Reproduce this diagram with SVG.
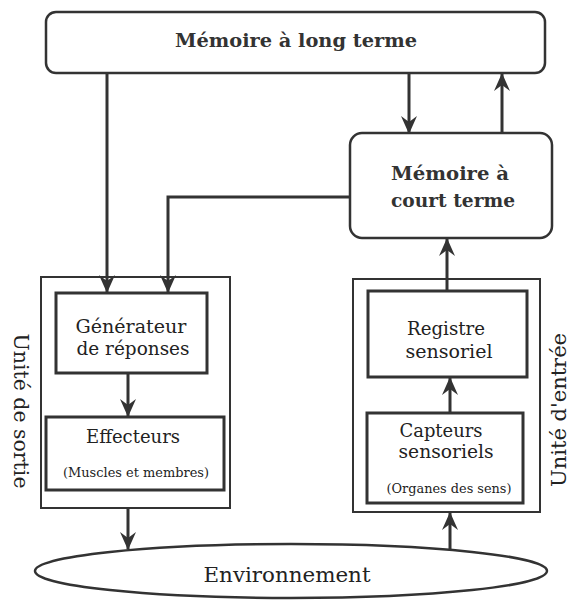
<svg xmlns="http://www.w3.org/2000/svg" width="572" height="600" viewBox="0 0 572 600">
<style>
  .outer { fill: none; stroke: #333333; stroke-width: 2; }
  .inner { fill: #ffffff; stroke: #333333; stroke-width: 3; }
  .round { fill: #ffffff; stroke: #333333; stroke-width: 2.5; }
  .lbl { font-family: "DejaVu Serif", "Liberation Serif", serif; font-size: 19px; fill: #222222; text-anchor: middle; }
  .bold { font-weight: bold; fill: #333333; }
  .small { font-size: 13px; }
  .side { font-size: 20px; }
  .conn { fill: none; stroke: #333333; stroke-width: 3; marker-end: url(#arr); }
</style>
<defs>
  <marker id="arr" viewBox="0 0 18 16" refX="17" refY="8" markerWidth="18" markerHeight="16" orient="auto" markerUnits="userSpaceOnUse">
    <path d="M0,0 L18,8 L0,16 L6,8 Z" fill="#333333"/>
  </marker>
</defs>
<rect width="572" height="600" fill="#ffffff"/>

<g id="ltm">
  <rect class="round" x="46" y="12" width="499" height="61" rx="10"/>
  <text class="lbl bold" x="296" y="47" textLength="242" lengthAdjust="spacingAndGlyphs">Mémoire à long terme</text>
</g>

<g id="stm">
  <rect class="round" x="350" y="133" width="202" height="105" rx="12"/>
  <text class="lbl bold" x="450" y="180" textLength="118" lengthAdjust="spacingAndGlyphs">Mémoire à</text>
  <text class="lbl bold" x="453" y="207" textLength="124" lengthAdjust="spacingAndGlyphs">court terme</text>
</g>

<g id="unite-sortie">
  <rect class="outer" x="41" y="277" width="189" height="231"/>
  <text class="lbl side" transform="translate(14,411) rotate(90)" x="0" y="0" textLength="155" lengthAdjust="spacingAndGlyphs">Unité de sortie</text>
</g>

<g id="generateur">
  <rect class="inner" x="56" y="293" width="151" height="80"/>
  <text class="lbl" x="131" y="333" textLength="111" lengthAdjust="spacingAndGlyphs">Générateur</text>
  <text class="lbl" x="133" y="355" textLength="113" lengthAdjust="spacingAndGlyphs">de réponses</text>
</g>

<g id="effecteurs">
  <rect class="inner" x="46" y="417" width="178" height="73"/>
  <text class="lbl" x="133" y="443" textLength="94" lengthAdjust="spacingAndGlyphs">Effecteurs</text>
  <text class="lbl small" x="136" y="477" textLength="146" lengthAdjust="spacingAndGlyphs">(Muscles et membres)</text>
</g>

<g id="unite-entree">
  <rect class="outer" x="353" y="279" width="187" height="233"/>
  <text class="lbl side" transform="translate(566,410) rotate(-90)" x="0" y="0" textLength="154" lengthAdjust="spacingAndGlyphs">Unité d'entrée</text>
</g>

<g id="registre">
  <rect class="inner" x="368" y="291" width="159" height="86"/>
  <text class="lbl" x="446" y="335" textLength="78" lengthAdjust="spacingAndGlyphs">Registre</text>
  <text class="lbl" x="449" y="358" textLength="87" lengthAdjust="spacingAndGlyphs">sensoriel</text>
</g>

<g id="capteurs">
  <rect class="inner" x="367" y="413" width="156" height="90"/>
  <text class="lbl" x="441" y="437" textLength="83" lengthAdjust="spacingAndGlyphs">Capteurs</text>
  <text class="lbl" x="446" y="458" textLength="95" lengthAdjust="spacingAndGlyphs">sensoriels</text>
  <text class="lbl small" x="449" y="493" textLength="125" lengthAdjust="spacingAndGlyphs">(Organes des sens)</text>
</g>

<g id="environnement">
  <ellipse cx="291" cy="571" rx="256" ry="27" fill="#ffffff" stroke="#333333" stroke-width="2.5"/>
  <text class="lbl" x="287" y="582" style="font-size:21px" textLength="167" lengthAdjust="spacingAndGlyphs">Environnement</text>
</g>

<g id="connectors">
  <path class="conn" d="M107,73 V292"/>
  <path class="conn" d="M350,197 H168 V292"/>
  <path class="conn" d="M409,73 V133"/>
  <path class="conn" d="M502,133 V74"/>
  <path class="conn" d="M447,291 V239"/>
  <path class="conn" d="M450,413 V378"/>
  <path class="conn" d="M128,373 V416"/>
  <path class="conn" d="M128,508 V549"/>
  <path class="conn" d="M450,549 V513"/>
</g>
</svg>
